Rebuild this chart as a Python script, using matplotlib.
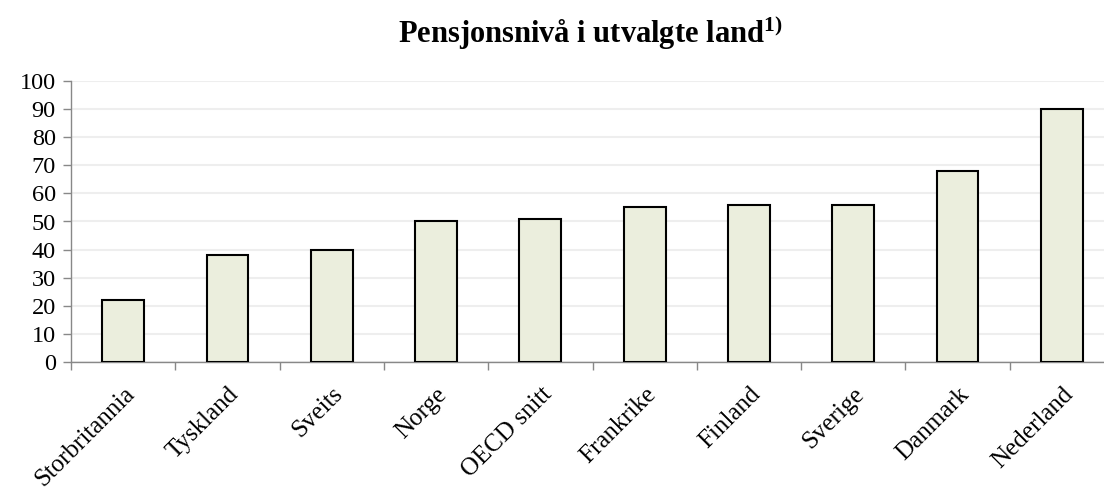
import matplotlib
matplotlib.use("Agg")
import matplotlib.pyplot as plt
import numpy as np

categories = ["Storbritannia", "Tyskland", "Sveits", "Norge", "OECD snitt",
              "Frankrike", "Finland", "Sverige", "Danmark", "Nederland"]
values = [22, 38, 40, 50, 51, 55, 56, 56, 68, 90]
yticks = [0, 10, 20, 30, 40, 50, 60, 70, 80, 90, 100]
title = "Pensjonsnivå i utvalgte land"

plt.rcParams['font.family'] = ['Liberation Serif', 'DejaVu Serif']
plt.rcParams['mathtext.fontset'] = 'custom'
plt.rcParams['mathtext.rm'] = 'Liberation Serif'
plt.rcParams['mathtext.bf'] = 'Liberation Serif:bold'

W, H = 1104, 490
fig = plt.figure(figsize=(W/100, H/100), dpi=100)
left, right = 71, 1114
top, bottom = 80.7, 362.3
ax = fig.add_axes([left/W, 1 - bottom/H, (right-left)/W, (bottom-top)/H])

x = np.arange(len(categories))
ax.bar(x, values, width=0.4, color='#EBEEDD', edgecolor='black', linewidth=1.5, zorder=3)

ax.set_xlim(-0.5, len(categories) - 0.5)
ax.set_ylim(0, 100)
ax.set_yticks(yticks)
ax.set_yticklabels([str(v) for v in yticks], fontsize=17.5)
ax.yaxis.grid(True, color='#EEEEEE', linewidth=1.5, zorder=0)
ax.set_axisbelow(True)

ax.set_xticks(x)
ax.set_xticklabels(categories, rotation=45, ha='right', rotation_mode='anchor', fontsize=18)
ax.tick_params(axis='x', which='major', length=0, pad=15)
ax.set_xticks(np.arange(-0.5, len(categories), 1.0), minor=True)
ax.tick_params(axis='x', which='minor', length=6, color='#888888', width=1)
ax.tick_params(axis='y', length=6, color='#888888', width=1, pad=5)

for s in ['top', 'right']:
    ax.spines[s].set_visible(False)
ax.spines['left'].set_color('#888888')
ax.spines['bottom'].set_color('#888888')
ax.spines['left'].set_linewidth(1)
ax.spines['bottom'].set_linewidth(1)

fig.text(590/W, 1 - 43/H, title + r"$^{\mathbf{1)}}$", ha='center', va='baseline',
         fontsize=22, fontweight='bold')

fig.savefig("out.png", dpi=100)
